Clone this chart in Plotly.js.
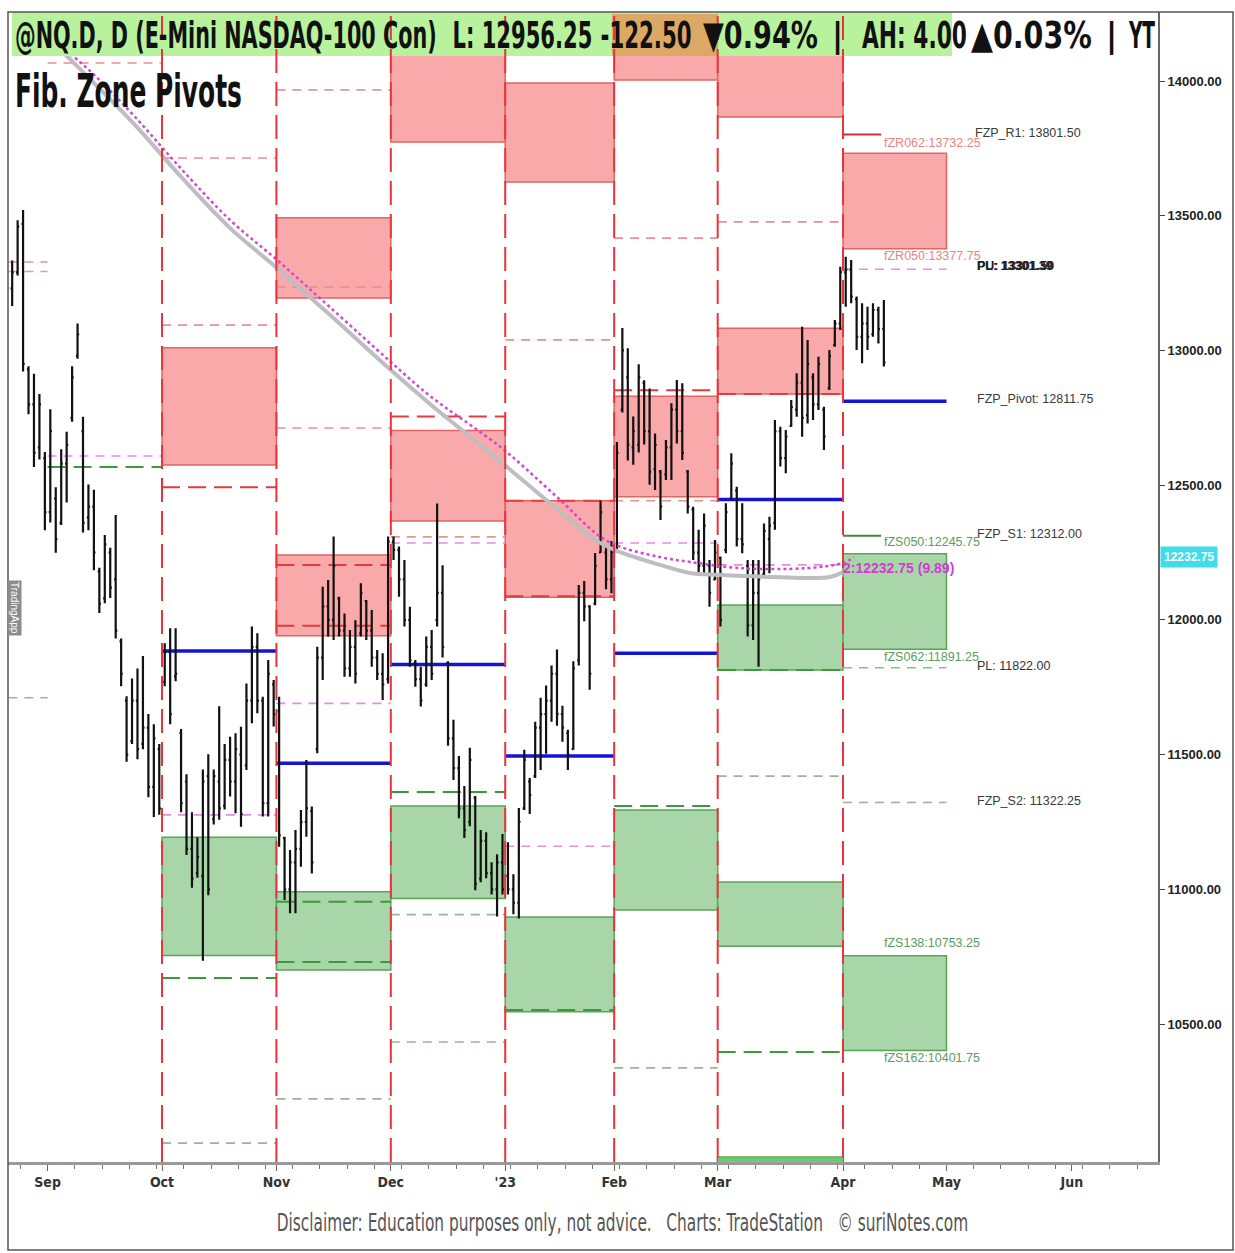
<!DOCTYPE html>
<html><head><meta charset="utf-8">
<script src="https://cdn.plot.ly/plotly-3.0.1.min.js"></script>
<style>html,body{margin:0;padding:0;background:#fff}#chart{width:1235px;height:1253px}</style>
</head><body><div id="chart"></div>
<script>
// ---------- DATA ----------
// daily bars of @NQ.D, bar 0 = 2022-08-22 (trading-day index)
const barOpen = [13300,13230,13290,13470,12930,12800,12640,12600,12400,12450,
12360,12580,12750,12980,12700,12380,12420,12180,12080,12250,
12150,11920,11700,11550,11700,11540,11600,11380,11520,11770,
11880,11790,11580,11400,11150,11060,11050,11420,11260,11400,
11310,11480,11400,11500,11460,11700,11900,11700,11320,11760,
11660,11190,11000,11100,11150,11250,11290,11520,11860,12050,
12000,12080,11960,11820,11900,11950,12070,11960,11860,11800,
11780,12290,12260,12150,12000,11840,11780,11760,11900,12000,
12100,11840,11560,11450,11300,11250,11340,11040,11180,11060,
11000,11100,11050,11000,10950,11300,11400,11420,11600,11650,
11700,11800,11650,11580,11520,11850,12100,12050,12060,12250,
12250,12150,12260,12780,12900,12640,12650,12880,12700,12560,
12550,12540,12640,12780,12700,12550,12410,12250,12200,12200,
12150,12230,12260,12450,12480,12300,12200,11980,12100,12170,
12300,12360,12700,12600,12720,12780,12880,12760,12900,12800,
12780,12860,13020,13100,13290,13300,13190,13050,13100,13060,
13150,13080];
const barHigh = [13343,13334,13483,13521,12941,12913,12838,12623,12782,12492,
12633,12698,12941,13100,12754,12502,12483,12193,12315,12268,
12389,11931,11716,11782,11819,11866,11651,11613,11539,11913,
11969,11969,11595,11427,11286,11193,11445,11501,11445,11679,
11539,11566,11579,11603,11764,11975,11950,11715,11851,11777,
11715,11195,11146,11220,11294,11480,11307,11900,12123,12148,
12309,12086,12024,11962,11999,12136,12074,12037,11888,11876,
12309,12309,12272,12222,12049,11851,11826,11938,11962,12432,
12203,11846,11629,11495,11383,11525,11346,11220,11212,11100,
11130,11205,11175,11056,11302,11518,11413,11622,11711,11756,
11831,11890,11681,11592,11846,12129,12144,12054,12248,12442,
12278,12293,12660,13083,13008,12755,12949,12889,12859,12692,
12556,12668,12804,12890,12878,12556,12420,12334,12395,12222,
12296,12235,12433,12618,12494,12433,12222,12222,12222,12358,
12383,12742,12717,12705,12816,12915,13088,13039,12915,12977,
12791,13002,13113,13311,13348,13336,13200,13175,13162,13175,
13162,13187];
const barLow = [13184,13165,13278,12922,12763,12567,12595,12333,12361,12249,
12352,12436,12735,12969,12324,12333,12184,12025,12062,12081,
11931,11754,11473,11539,11483,11520,11342,11268,11277,11754,
11613,11772,11286,11127,11006,11043,10735,10978,11240,11258,
11296,11344,11282,11232,11443,11616,11653,11270,11270,11604,
11158,10960,10911,10911,11084,11195,11059,11505,11777,11938,
11925,11938,11789,11789,11764,11938,11925,11826,11777,11703,
11764,12222,12086,11975,11826,11752,11678,11752,11777,11975,
11860,11533,11406,11264,11190,11234,10996,11026,11041,10981,
10899,10981,10981,10907,10892,11294,11279,11413,11443,11503,
11622,11607,11548,11443,11518,11831,11995,11741,12054,12248,
12114,12099,12250,12770,12591,12576,12621,12651,12501,12482,
12371,12519,12519,12655,12593,12395,12222,12173,12173,12049,
12148,11975,12247,12445,12272,12247,11938,11925,11826,12160,
12173,12334,12569,12544,12717,12754,12680,12729,12742,12779,
12630,12853,13014,13076,13162,13175,13002,12952,13002,13051,
13026,12940];
const barClose = [13230,13290,13460,12950,12800,12620,12800,12400,12700,12300,
12580,12650,12900,13060,12360,12420,12250,12060,12280,12120,
11960,11800,11500,11700,11520,11600,11380,11560,11300,11880,
11650,11800,11320,11150,11040,11120,11400,11000,11420,11300,
11480,11400,11520,11280,11700,11900,11700,11320,11800,11650,
11200,11000,11100,11150,11250,11300,11100,11860,12050,12000,
12200,11960,11820,11900,11800,12100,11960,11860,11800,11760,
12290,12260,12150,12000,11850,11780,11700,11900,11800,12100,
11900,11560,11450,11300,11220,11480,11020,11180,11060,11000,
11100,11000,11000,10950,11250,11480,11350,11600,11650,11700,
11800,11650,11600,11500,11820,12100,12050,11800,12200,12400,
12150,12250,12620,13000,12650,12700,12900,12700,12550,12650,
12420,12640,12780,12700,12620,12420,12250,12200,12350,12100,
12250,12000,12400,12580,12300,12280,11980,12100,12150,12330,
12350,12700,12600,12680,12790,12880,12750,12950,12800,12950,
12680,12980,13100,13290,13300,13200,13050,13100,13050,13150,
13079,12956];

// month segments (trading-day index boundaries)
const monthNames = ['Aug','Sep','Oct','Nov','Dec','Jan','Feb','Mar','Apr'];
const monthStart = [-1, 7.5, 28.5, 49.5, 70.5, 91.5, 111.5, 130.5, 153.5];
const monthEnd   = [7.5, 28.5, 49.5, 70.5, 91.5, 111.5, 130.5, 153.5, 172.5];

// axis ticks
const xTickPos  = [7.5, 28.5, 49.5, 70.5, 91.5, 111.5, 130.5, 153.5, 172.5, 195.5];
const xTickText = ['Sep','Oct','Nov','Dec',"'23",'Feb','Mar','Apr','May','Jun'];
const yTickVals = [10500, 11000, 11500, 12000, 12500, 13000, 13500, 14000];

// Fib zone levels per month  [month, top, bottom]
const redZones = [['Oct',13010,12575],['Nov',13492,13195],['Nov',12241,11941],
  ['Dec',14300,13774],['Dec',12703,12367],['Jan',13993,13625],['Jan',12442,12084],
  ['Feb',14300,14004],['Feb',12830,12457],['Mar',14300,13866],['Mar',13082,12838],
  ['Apr',13732.25,13377.75]];
const greenZones = [['Oct',11193,10754],['Nov',10991,10700],['Dec',11309,10966],
  ['Jan',10897,10545],['Feb',11294,10923],['Mar',12055,11814],['Mar',11027,10789],
  ['Mar',10006,9900],['Apr',12245.75,11891.25],['Apr',10753.25,10401.75]];
const pivots = [['Oct',11884],['Nov',11468],['Dec',11834],['Jan',11495],['Feb',11876],['Mar',12447],['Apr',12811.75]];
const redDash = [['Oct',12492],['Nov',12204],['Nov',11978],['Dec',12755],['Jan',12442],['Jan',12088],['Feb',12852],['Mar',12838]];
const lightRedDash = [['Aug',13328],['Sep',14067],['Oct',13714],['Oct',13094],['Nov',13967],['Nov',13235],['Nov',12712],
  ['Dec',12308],['Jan',13039],['Feb',13417],['Feb',12442],['Mar',13477]];
const pinkDash = [['Aug',13293],['Sep',12608],['Oct',11276],['Nov',11690],['Dec',12285],['Jan',11160],['Feb',12285],['Mar',12204],['Apr',13301.5]];
const greenDash = [['Sep',12567],['Oct',10671],['Nov',10954],['Nov',10730],['Dec',11361],['Jan',10552],['Feb',11309],['Mar',11814],['Mar',10396]];
const lightGreenDash = [['Aug',11711],['Oct',10058],['Nov',10222],['Dec',10906],['Dec',10433],['Feb',10337],['Mar',11420],['Apr',11822],['Apr',11322.25]];
const aprR1 = 13801.5, aprS1 = 12312.0;

// moving averages
const grayMaX = [1.5,14.7,23.4,32.2,41.0,49.6,59.3,70.5,77.7,90.5,101.0,108.3,112.0,119.9,125.4,130.6,140.7,151.1,153.5];
const grayMaY = [14282,14019,13840,13640,13454,13306,13132,12927,12801,12590,12411,12293,12256,12204,12174,12167,12159,12159,12178];
const pinkMaX = [0.5,14.7,23.4,32.2,41.0,49.6,59.3,70.5,77.7,91.1,101.0,110.2,119.9,125.4,134.6,146.9,153.5,155.5];
const pinkMaY = [14282,14048,13870,13670,13484,13336,13161,12957,12831,12634,12456,12293,12233,12215,12192,12192,12211,12232.75];
const maLast = 12232.75;

// ---------- BUILD ----------
const barIdx = barHigh.map((_, i) => i);
const L = 8, R = 1158, T = 12, B = 1162, W = 1235, H = 1253;
const px = x => (x - L) / (R - L);
const py = y => (B - y) / (B - T);
const seg = n => monthNames.indexOf(n);

const shapes = [];
function zone(list, fill, border) {
  list.forEach(([m, top, bot]) => {
    const k = seg(m);
    shapes.push({type:'rect', xref:'x', yref:'y', x0:monthStart[k], x1:monthEnd[k], y0:bot, y1:top,
      fillcolor:fill, line:{color:border, width:1.5}, layer:'below'});
  });
}
function hl(list, color, width, dash) {
  list.forEach(([m, v]) => {
    const k = seg(m);
    shapes.push({type:'line', xref:'x', yref:'y', x0:Math.max(monthStart[k],0.3), x1:monthEnd[k], y0:v, y1:v,
      line:{color:color, width:width, dash:dash}, layer:'below'});
  });
}
zone(redZones, '#f9a9a9', '#e26464');
zone(greenZones, '#a9d6a9', '#5aa45a');
hl(lightRedDash, '#e99090', 1.6, '9px,7px');
hl(redDash, '#e23c3c', 2, '18px,8px');
hl(pinkDash, '#e48ee4', 1.6, '9px,7px');
hl(greenDash, '#3c9a3c', 2, '18px,8px');
hl(lightGreenDash, '#93b893', 1.6, '9px,7px');
hl(pivots, '#1414d4', 3.5, 'solid');
shapes.push({type:'line', xref:'x', yref:'y', x0:153.5, x1:160.5, y0:aprR1, y1:aprR1, line:{color:'#c83030', width:2}, layer:'below'});
shapes.push({type:'line', xref:'x', yref:'y', x0:153.5, x1:160.5, y0:aprS1, y1:aprS1, line:{color:'#3c8c3c', width:2}, layer:'below'});

// header background
shapes.push({type:'rect', xref:'paper', yref:'paper', x0:px(12), x1:px(952), y0:py(56), y1:py(12),
  fillcolor:'#b9f29c', line:{width:0}, layer:'above'});
shapes.push({type:'rect', xref:'paper', yref:'paper', x0:px(612), x1:px(718), y0:py(56), y1:py(14),
  fillcolor:'#dba865', line:{width:0}, layer:'above'});
// month dividers
monthStart.slice(2).forEach(x => shapes.push({type:'line', xref:'x', yref:'paper', x0:x, x1:x, y0:0, y1:1,
  line:{color:'#e8343a', width:2, dash:'24px,9px'}, layer:'above'}));
// current month strip on x axis
shapes.push({type:'line', xref:'x', yref:'paper', x0:130.5, x1:153.5, y0:0.002, y1:0.002, line:{color:'#6cc86c', width:4}, layer:'above'});
// outer frame
shapes.push({type:'rect', xref:'paper', yref:'paper', x0:0, x1:px(1233), y0:py(1250), y1:1,
  fillcolor:'rgba(0,0,0,0)', line:{color:'#555', width:1.5}, layer:'above'});

const narrow = 'Liberation Sans Narrow, DejaVu Sans Condensed, Arial Narrow, sans-serif';
const ann = [];
const condensed = [];
function headText(t, cx, len, size) {
  if (len) condensed.push([ann.length, len]);
  ann.push({text:t, xref:'paper', yref:'paper', x:px(cx), y:py(35), xanchor:'center', yanchor:'middle',
    showarrow:false, font:{family:narrow, size:size||38, color:'#111', weight:'bold'}});
}
headText('@NQ.D, D (E-Mini NASDAQ-100 Con)', 226, 422);
headText('L: 12956.25', 522, 140);
headText('-122.50', 646.5, 91);
headText('\u25BC0.94%', 760.5, 115);
headText('|', 837, 0, 34);
headText('AH: 4.00', 914.5, 105);
headText('\u25B20.03%', 1031.5, 121);
headText('|', 1111, 0, 34);
headText('YT', 1141.5, 27);
// title
condensed.push([ann.length, 227]);
ann.push({text:'Fib. Zone Pivots', xref:'paper', yref:'paper', x:px(128.5), y:py(91), xanchor:'center', yanchor:'middle',
  showarrow:false, font:{family:narrow, size:46, color:'#111', weight:'bold'}});
// footer
condensed.push([ann.length, 692]);
ann.push({text:'Disclaimer: Education purposes only, not advice.   Charts: TradeStation   \u00A9 suriNotes.com',
  xref:'paper', yref:'paper', x:px(622), y:py(1222), xanchor:'center', yanchor:'middle', showarrow:false,
  font:{family:narrow, size:25, color:'#555'}});

// level labels (April)
const lab = (t, x, y, color, size, bold) => ann.push({text:t, xref:'paper', yref:'paper', x:px(x), y:py(y),
  xanchor:'left', yanchor:'middle', showarrow:false, font:{family:'Liberation Sans, Arial, sans-serif', size:size||12.5, color:color, weight:bold?'bold':'normal'}});
lab('FZP_R1: 13801.50', 973, 133, '#3a3a3a');
lab('fZR062:13732.25', 882, 143, '#e88484');
lab('fZR050:13377.75', 882, 256, '#e88484');
lab('PL: 13301.39', 975, 266, '#222', 12.5, true);
lab('PU: 13301.50', 975, 266, '#222', 12.5, true);
lab('FZP_Pivot: 12811.75', 975, 399, '#3a3a3a');
lab('FZP_S1: 12312.00', 975, 534, '#3a3a3a');
lab('fZS050:12245.75', 882, 542, '#5c9c5c');
lab('2:12232.75 (9.89)', 841, 568, '#d23cd2', 14, true);
lab('fZS062:11891.25', 882, 657, '#5c9c5c');
lab('PL: 11822.00', 975, 666, '#333');
lab('FZP_S2: 11322.25', 975, 801, '#3a3a3a');
lab('fZS138:10753.25', 882, 943, '#5c9c5c');
lab('fZS162:10401.75', 882, 1058, '#5c9c5c');
// last MA value on axis
ann.push({text:maLast.toFixed(2), xref:'paper', yref:'y', x:px(1160), y:maLast, xanchor:'left', yanchor:'middle',
  showarrow:false, bgcolor:'#3fdcec', borderpad:3, font:{family:'Liberation Sans, Arial', size:12, color:'#fff', weight:'bold'}});
// side watermark
ann.push({text:'TradingApp', xref:'paper', yref:'paper', x:px(14), y:py(608), xanchor:'center', yanchor:'middle',
  textangle:90, showarrow:false, bgcolor:'#8c8c8c', borderpad:1, font:{family:'Liberation Sans, Arial', size:10, color:'#fff'}});

const traces = [
  {type:'scatter', mode:'lines', x:grayMaX, y:grayMaY, line:{color:'#bdbdc2', width:4, shape:'spline'}, hoverinfo:'skip', showlegend:false},
  {type:'scatter', mode:'lines', x:pinkMaX, y:pinkMaY, line:{color:'#d348d3', width:2.5, dash:'dot', shape:'spline'}, hoverinfo:'skip', showlegend:false},
  {type:'ohlc', x:barIdx, open:barOpen, high:barHigh, low:barLow, close:barClose, tickwidth:0.3,
   increasing:{line:{color:'#111', width:2.2}}, decreasing:{line:{color:'#111', width:2.2}}, showlegend:false, hoverinfo:'skip'}
];

const layout = {
  width:W, height:H, autosize:false, paper_bgcolor:'#fff', plot_bgcolor:'#fff',
  margin:{l:L, r:W-R, t:T, b:H-B, pad:0}, showlegend:false, hovermode:false,
  xaxis:{type:'linear', range:[0.233, 211.32], rangeslider:{visible:false}, showgrid:false, zeroline:false,
    tickmode:'array', tickvals:xTickPos, ticktext:xTickText, ticks:'outside', ticklen:6, tickcolor:'#666',
    showline:true, linecolor:'#9a9a9a', linewidth:2.5,
    minor:{tickmode:'linear', tick0:2.5, dtick:5, ticks:'outside', ticklen:4, tickcolor:'#777', showgrid:false},
    tickfont:{family:narrow, size:14, color:'#333', weight:'bold'}},
  yaxis:{side:'right', range:[9987.8, 14256.1], showgrid:false, zeroline:false, tickmode:'array',
    tickvals:yTickVals, ticktext:yTickVals.map(v => v.toFixed(2)), ticks:'outside', ticklen:5, tickcolor:'#444',
    showline:true, linecolor:'#666', linewidth:2, tickfont:{family:'Liberation Sans, Arial, sans-serif', size:13, color:'#222', weight:'bold'}},
  shapes:shapes, annotations:ann
};

Plotly.newPlot('chart', traces, layout, {staticPlot:true}).then(gd => {
  // squeeze condensed-style texts horizontally around their centres
  condensed.forEach(([idx, len]) => {
    const g = gd.querySelector('.annotation[data-index="' + idx + '"]');
    if (!g) return;
    const t = g.querySelector('text.annotation-text');
    if (!t) return;
    const bb = t.getBBox();
    if (!bb.width) return;
    const sx = len / bb.width;
    const cx = bb.x + bb.width / 2;
    t.setAttribute('transform', 'translate(' + (cx * (1 - sx)) + ',0) scale(' + sx + ',1)');
    const bg = g.querySelector('rect.bg');
    if (bg) {
      const bw = parseFloat(bg.getAttribute('width')) || 0;
      const bx = parseFloat(bg.getAttribute('x')) || 0;
      const bcx = bx + bw / 2;
      bg.setAttribute('width', bw * sx);
      bg.setAttribute('x', bcx - bw * sx / 2);
    }
  });
});
</script>
</body></html>
